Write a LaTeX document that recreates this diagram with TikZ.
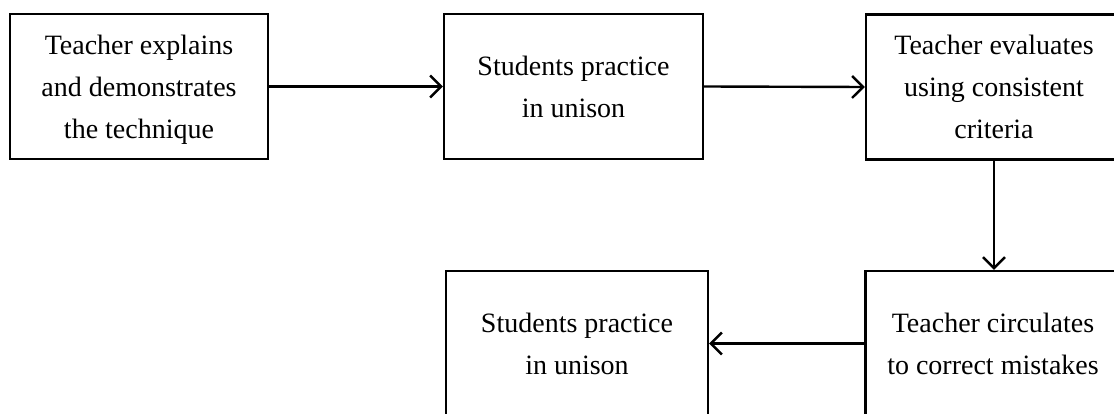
\documentclass[tikz,border=0pt]{standalone}
\usepackage{fontspec}
\setmainfont{Liberation Serif}
\usetikzlibrary{arrows.meta}
\begin{document}
\begin{tikzpicture}[x=1pt,y=-1pt,
  box/.style={draw=black, line width=2.4pt, inner sep=0pt, align=center,
    font=\fontsize{28}{42}\selectfont, text=black, text depth=0pt},
  conn/.style={line width=2.4pt, -{Straight Barb[length=11pt,width=22pt,line width=2.4pt]}}]
\useasboundingbox (0,0) rectangle (1114,414);
\clip (0,0) rectangle (1114,414);
\node[box, minimum width=258pt, minimum height=145pt] (b1) at (139,86.5) {Teacher explains\\and demonstrates\\the technique};
\node[box, minimum width=259pt, minimum height=145pt] (b2) at (573.5,86.5) {Students practice\\in unison};
\node[box, minimum width=256pt, minimum height=145pt] (b3) at (994,87) {Teacher evaluates\\using consistent\\criteria};
\node[box, minimum width=262pt, minimum height=145pt] (b4) at (577,343.5) {Students practice\\in unison};
\node[box, minimum width=255pt, minimum height=145pt] (b5) at (993,343.5) {Teacher circulates\\to correct mistakes};
\draw[conn] (b1.east) -- (b2.west);
\draw[conn] (b2.east) -- (b3.west);
\draw[conn] (b3.south) -- (b3.south |- b5.north);
\draw[conn] (b5.west) -- (b4.east);
\end{tikzpicture}
\end{document}
